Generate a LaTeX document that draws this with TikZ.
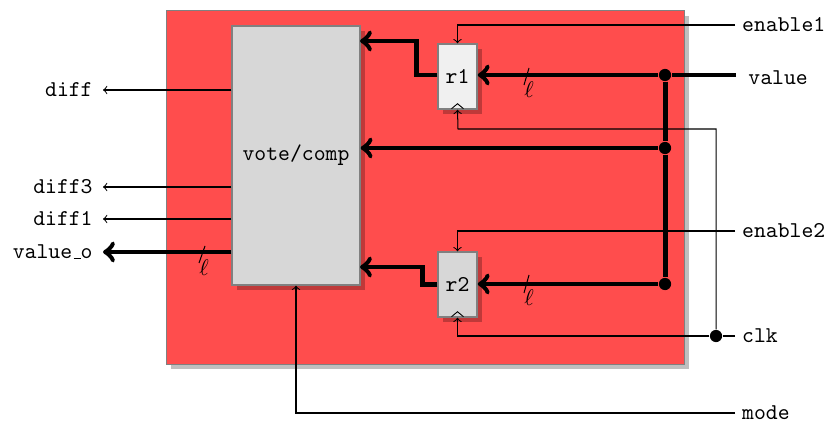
\documentclass[tikz,border=0pt]{standalone}
\usetikzlibrary{shadows,calc}
\definecolor{chipred}{HTML}{FF4D4D}
\definecolor{votegray}{HTML}{D7D7D7}
\definecolor{reggray}{HTML}{F0F0F0}
\newcommand{\cmtype}{\fontencoding{OT1}\fontfamily{cmtt}\selectfont}
\tikzset{
    box shadow/.style={drop shadow={shadow xshift=2.2pt,shadow yshift=-2.2pt,fill=black,opacity=.25}},
    chip/.style={draw=gray,line width=.6pt,fill=chipred,minimum width=229.2pt,minimum height=156.6pt,box shadow},
    block/.style={draw=gray,line width=.6pt,fill=votegray,inner sep=0pt,box shadow,font=\cmtype},
    votebox/.style={block,minimum width=56.6pt,minimum height=114.6pt},
    regbox/.style={block,minimum width=17.3pt,minimum height=28.8pt},
    point/.style={circle,fill=black,inner sep=0pt,minimum size=5.4pt},
    wire/.style={->,line width=.45pt},
    plainwire/.style={line width=.45pt},
    bus/.style={->,line width=2.2pt},
    plainbus/.style={line width=2.2pt},
    outlabel/.style={anchor=east,font=\cmtype,inner sep=0pt,inner xsep=4.4pt,text height=6pt,text depth=0pt},
    inlabel/.style={anchor=west,font=\cmtype,inner sep=0pt,inner xsep=3pt,text height=6pt,text depth=0pt},
    buslabel/.style={inner sep=0pt},
    clockmark/.style={line width=.4pt},
}
\begin{document}
\begin{tikzpicture}[x=.4425pt,y=-.4425pt]
    \useasboundingbox (0,0) rectangle (826,425);
    % blocks
    \node[chip] (chip) at (425.5,187.5) {};
    \node[votebox] (vote) at (296,155.5) {vote/comp};
    \node[regbox,fill=reggray] (r1) at (457.5,76.5) {r1};
    \node[regbox] (r2) at (457.5,284.5) {r2};
    % labels
    \node[inlabel] (enable1) at (735,25) {enable1};
    \node[inlabel,inner xsep=5.3pt] (value) at (736,78) {value};
    \node[inlabel] (enable2) at (735,231) {enable2};
    \node[inlabel] (clk) at (735,336) {clk};
    \node[inlabel] (mode) at (735,413) {mode};
    \node[outlabel] (diff) at (103,90) {diff};
    \node[outlabel] (diff3) at (103,187) {diff3};
    \node[outlabel] (diff1) at (103,219) {diff1};
    \node[outlabel] (valueo) at (103,252) {value\_o};
    % junctions
    \node[point] (j1) at (665,75) {};
    \node[point] (j2) at (665,148) {};
    \node[point] (j3) at (665,284) {};
    \node[point] (j4) at (716,336) {};
    \coordinate (value in) at (736,75);
    \coordinate (vote r1) at (360,41);
    \coordinate (vote r2) at (360,267);
    % data path
    \draw[plainbus] (value in) -- (j1);
    \draw[bus] (j1) -- (j1 -| r1.east);
    \draw[plainbus] (j1) -- (j2);
    \draw[plainbus] (j2) -- (j3);
    \draw[bus] (j2) -- (j2 -| vote.east);
    \draw[bus] (j3) -- (j3 -| r2.east);
    \draw[bus] (r1.west |- j1) -- ++(-21,0) |- (vote r1);
    \draw[bus] (r2.west) -- ++(-15,0) |- (vote r2);
    \draw[bus] (valueo.east -| vote.west) -- (valueo.east);
    % control
    \draw[wire] (enable1.west) -| (r1.north);
    \draw[wire] (enable2.west) -| (r2.north);
    \draw[wire] (clk.west) -- (j4) -| (r2.south);
    \draw[wire] (j4) |- (458,129) -- (r1.south);
    \draw[wire] (mode.west) -| (vote.south);
    \draw[wire] (diff.east -| vote.west) -- (diff.east);
    \draw[wire] (diff3.east -| vote.west) -- (diff3.east);
    \draw[wire] (diff1.east -| vote.west) -- (diff1.east);
    % clock marks
    \foreach \reg in {r1,r2} {
        \draw[clockmark] ($(\reg.south)+(-6,-1)$) -- ++(6,-5) -- ++(6,5);
    }
    % bus widths
    \draw[plainwire] (529,68) -- (524,85);
    \node[buslabel] (l1) at (529,90) {$\ell$};
    \draw[plainwire] (529,275) -- (524,293);
    \node[buslabel] (l2) at (529,298) {$\ell$};
    \draw[plainwire] (205,246) -- (199,263);
    \node[buslabel] (l3) at (204,268) {$\ell$};
\end{tikzpicture}
\end{document}
